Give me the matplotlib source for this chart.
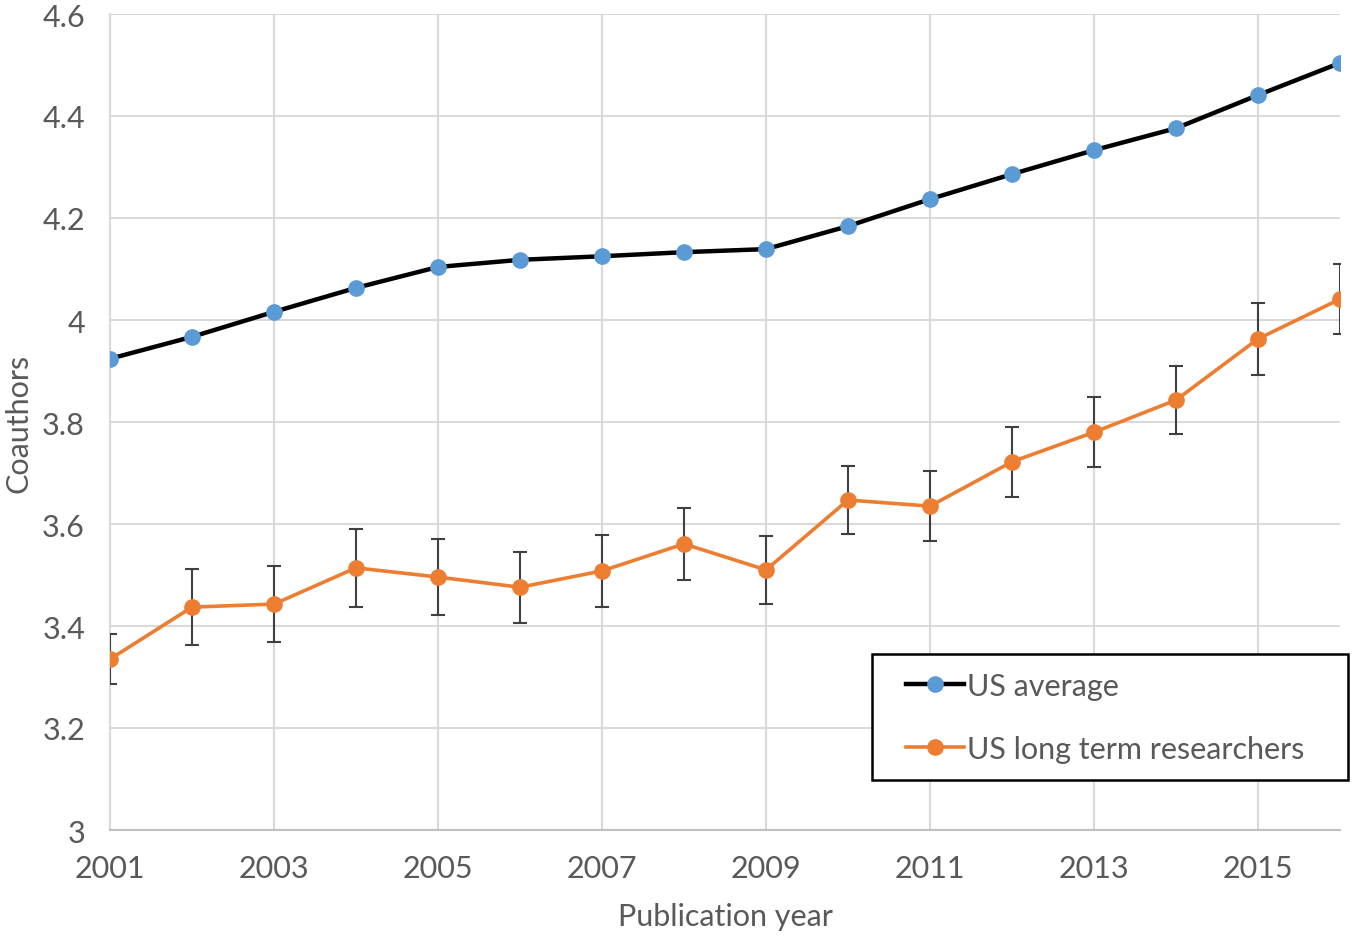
import numpy as np
import matplotlib
matplotlib.use("Agg")
import matplotlib.pyplot as plt
from matplotlib.patches import Rectangle

plt.rcParams['font.family'] = ['Lato', 'DejaVu Sans']

# data
years = list(range(2001, 2017))
us_average = [3.924, 3.967, 4.016, 4.063, 4.104, 4.118, 4.125, 4.133,
              4.139, 4.184, 4.237, 4.286, 4.333, 4.376, 4.441, 4.504]
long_term = [3.335, 3.437, 3.443, 3.514, 3.496, 3.476, 3.508, 3.561,
             3.510, 3.647, 3.635, 3.722, 3.780, 3.843, 3.963, 4.041]
long_term_err = [0.049, 0.075, 0.075, 0.076, 0.074, 0.070, 0.070, 0.070,
                 0.067, 0.067, 0.069, 0.069, 0.069, 0.067, 0.071, 0.068]
xtick_labels = ['2001', '2003', '2005', '2007', '2009', '2011', '2013', '2015']
ytick_values = [3, 3.2, 3.4, 3.6, 3.8, 4, 4.2, 4.4, 4.6]
ytick_labels = ['3', '3.2', '3.4', '3.6', '3.8', '4', '4.2', '4.4', '4.6']

text_color = '#595959'
grid_color = '#d9d9d9'

fig = plt.figure(figsize=(13.53, 9.37), dpi=100)
ax = fig.add_axes([110 / 1353, 1 - 831 / 937, 1230 / 1353, 816 / 937])

l1, = ax.plot(years, us_average, color='black', lw=3.2, marker='o', ms=11,
              mfc='#5b9bd5', mec='#5b9bd5', label='US average', zorder=4)
ax.errorbar(years, long_term, yerr=long_term_err, fmt='none', ecolor='#404040',
            elinewidth=1.5, capsize=5, capthick=1.5, zorder=3)
l2, = ax.plot(years, long_term, color='#ed7d31', lw=2.6, marker='o', ms=11,
              mfc='#ed7d31', mec='#ed7d31', label='US long term researchers', zorder=5)

ax.set_xlim(2001, 2016)
ax.set_ylim(3, 4.6)
ax.set_xticks([int(t) for t in xtick_labels])
ax.set_xticklabels(xtick_labels)
ax.set_yticks(ytick_values)
ax.set_yticklabels(ytick_labels)

ax.grid(True, color=grid_color, lw=1.5)
ax.set_axisbelow(True)
for s in ['top', 'right']:
    ax.spines[s].set_visible(False)
ax.spines['left'].set_color(grid_color)
ax.spines['left'].set_linewidth(1.5)
ax.spines['bottom'].set_color('#bfbfbf')
ax.spines['bottom'].set_linewidth(1.5)
ax.tick_params(length=0, labelsize=22, colors=text_color)
ax.tick_params(axis='x', pad=17)
ax.tick_params(axis='y', pad=18)

ax.set_xlabel('Publication year', fontsize=22, color=text_color, labelpad=15)
ax.set_ylabel('Coauthors', fontsize=22, color=text_color, labelpad=7)

# legend box
box = Rectangle((872 / 1353, 1 - 781 / 937), 476 / 1353, 126 / 937,
                transform=fig.transFigure, facecolor='white', edgecolor='black',
                lw=1.8, zorder=5)
fig.add_artist(box)
leg = fig.legend([l1, l2], ['US average', 'US long term researchers'],
                 loc='upper left', bbox_to_anchor=(906 / 1353, 1 - 673 / 937),
                 frameon=False, fontsize=22, handlelength=1.9, handletextpad=0.1,
                 labelspacing=1.13, borderpad=0, borderaxespad=0,
                 labelcolor=text_color)
leg.set_zorder(6)

fig.savefig('out.png', dpi=100)
